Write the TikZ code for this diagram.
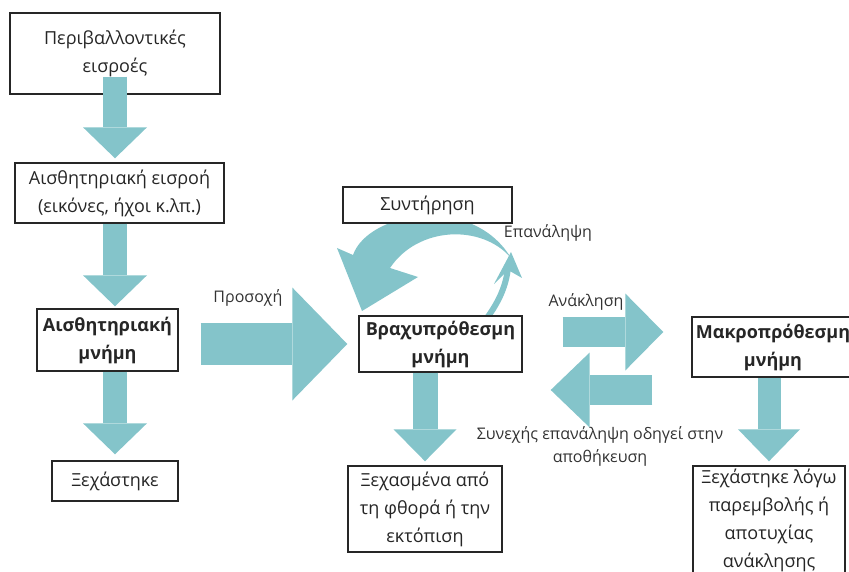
\documentclass[tikz,border=0pt]{standalone}
\usepackage{fontspec}
\setmainfont{Open Sans}
\usetikzlibrary{arrows.meta}
\definecolor{flowteal}{RGB}{132,196,202}

\begin{document}
\begin{tikzpicture}[
    x=1pt, y=-1pt,
    box/.style={draw=black!85, line width=1.4pt, fill=white, align=center, inner sep=2pt, text=black!85, font=\fontsize{18}{28}\selectfont},
    tag/.style={align=center, text=black!80, font=\fontsize{16}{23}\selectfont},
    flow/.style n args={3}{draw=flowteal, line width=#1pt, -{Triangle[width=#2pt, length=#3pt, line width=0pt]}}
]
    \useasboundingbox (0,0) rectangle (849,572);
    \clip (0,0) rectangle (849,572);

    % Maintenance loop
    \fill[flowteal] (337,248) -- (353,255) .. controls (368,212) and (472,193) .. (511,258)
        .. controls (482,224) and (418,226) .. (390,268) -- (418,277) -- (362,311) -- cycle;
    \draw[flowteal, line width=6pt] (487,318) .. controls (500,300) and (506,285) .. (508,268);
    \fill[flowteal] (511,252) -- (522,278) -- (508,270) -- (494,284) -- cycle;

    % Left column
    \node[box, minimum width=210pt, minimum height=81pt] (inputs) at (115,53.5) {Περιβαλλοντικές\\εισροές};
    \node[box, minimum width=209pt, minimum height=60pt] (sensin) at (119.5,193) {Αισθητηριακή εισροή\\(εικόνες, ήχοι κ.λπ.)};
    \node[box, minimum width=141pt, minimum height=62pt, font=\fontsize{18}{28}\selectfont\bfseries] (sensmem) at (107.5,340) {Αισθητηριακή\\μνήμη};
    \node[box, minimum width=126pt, minimum height=40pt] (lost) at (115,481) {Ξεχάστηκε};

    % Short term memory
    \node[box, minimum width=169pt, minimum height=36pt] (keep) at (427.5,205) {Συντήρηση};
    \node[box, minimum width=163pt, minimum height=56pt, font=\fontsize{18}{28}\selectfont\bfseries] (shortterm) at (440.5,344) {Βραχυπρόθεσμη\\μνήμη};
    \node[box, minimum width=154pt, minimum height=86pt] (decay) at (425,509) {Ξεχασμένα από\\τη φθορά ή την\\εκτόπιση};

    % Long term memory
    \node[box, minimum width=162pt, minimum height=60pt, font=\fontsize{18}{28}\selectfont\bfseries] (longterm) at (773,347) {Μακροπρόθεσμη\\μνήμη};
    \node[box, minimum width=152pt, minimum height=108pt] (interf) at (769,520) {Ξεχάστηκε λόγω\\παρεμβολής ή\\αποτυχίας\\ανάκλησης};

    % Arrows
    \draw[flow={24}{64}{31}, shorten <=-18pt, shorten >=4pt] (inputs.south) -- (inputs.south |- sensin.north);
    \draw[flow={24}{64}{31}, shorten >=2pt] (inputs.south |- sensin.south) -- (inputs.south |- sensmem.north);
    \draw[flow={24}{64}{31}, shorten >=6pt] (lost |- sensmem.south) -- (lost.north);
    \draw[flow={42}{113}{55}, shorten <=22pt, shorten >=11pt] (sensmem.east |- shortterm.west) -- (shortterm.west);
    \draw[flow={30}{77}{38}, shorten <=40pt, shorten >=28pt] ([yshift=12pt]shortterm.east) -- ([yshift=15pt]longterm.west);
    \draw[flow={30}{75}{39}, shorten <=39pt, shorten >=28pt] ([yshift=-43pt]longterm.west) -- ([yshift=-46pt]shortterm.east);
    \draw[flow={25}{63}{32}, shorten >=4pt] (shortterm.south -| decay.north) -- (decay.north);
    \draw[flow={23}{62}{32}, shorten >=4pt] (longterm.south -| interf.north) -- (interf.north);

    % Labels
    \node[tag] (attn) at (248,298) {Προσοχή};
    \node[tag] (rehearse) at (548,233) {Επανάληψη};
    \node[tag] (recall) at (586,302) {Ανάκληση};
    \node[tag] (store) at (600,446) {Συνεχής επανάληψη οδηγεί στην\\αποθήκευση};
\end{tikzpicture}
\end{document}
